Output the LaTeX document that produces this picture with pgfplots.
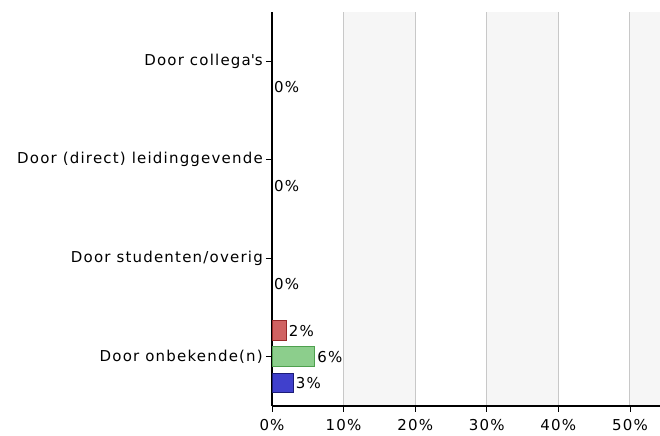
\documentclass[border=0pt]{standalone}
\usepackage{fontspec}
\setmainfont{DejaVu Sans}[LetterSpace=8]
\usepackage{pgfplots}
\pgfplotsset{compat=1.18}
\definecolor{redfill}{RGB}{208,98,98}
\definecolor{redline}{RGB}{150,40,40}
\definecolor{greenfill}{RGB}{140,206,140}
\definecolor{greenline}{RGB}{78,160,78}
\definecolor{bluefill}{RGB}{64,64,204}
\definecolor{blueline}{RGB}{28,28,120}
\definecolor{band}{RGB}{246,246,246}
\definecolor{gridc}{RGB}{200,200,200}
\begin{document}
\fontsize{15bp}{18bp}\selectfont
\begin{tikzpicture}
\begin{axis}[
  name=ax,
  set layers=standard,
  scale only axis,
  width=388bp, height=394bp,
  xmin=0, xmax=54.2,
  ymin=-0.5, ymax=3.5,
  axis lines*=left,
  axis line style={black, line width=1.2bp},
  xtick={0,10,20,30,40,50},
  xticklabel={\pgfmathprintnumber{\tick}\%},
  ytick={0,1,2,3},
  yticklabels={Door onbekende(n), Door studenten/overig, Door (direct) leidinggevende, Door collega\textquotesingle s},
  tick align=outside,
  major tick length=6bp,
  tick style={black, line width=0.8bp},
  xmajorgrids,
  major x grid style={gridc, line width=1bp},
  /pgf/number format/assume math mode=true,
  tick label style={font=\fontsize{15bp}{18bp}\selectfont, black},
  yticklabel style={inner sep=3bp},
  xticklabel style={yshift=-2bp},
  xbar,
  bar width=0.2,
  nodes near coords={\pgfmathprintnumber{\pgfplotspointmeta}\%},
  nodes near coords style={font=\fontsize{15bp}{18bp}\selectfont, black, anchor=west, inner sep=2bp},
  point meta=x,
]
\begin{pgfonlayer}{axis background}
\fill[band] (axis cs:10,-0.5) rectangle (axis cs:20,3.5);
\fill[band] (axis cs:30,-0.5) rectangle (axis cs:40,3.5);
\fill[band] (axis cs:50,-0.5) rectangle (axis cs:54.2,3.5);
\end{pgfonlayer}
\addplot[xbar, bar shift=0.265, fill=redfill, draw=redline, line width=1bp] coordinates {(2,0)};
\addplot[xbar, bar shift=0, fill=greenfill, draw=greenline, line width=1bp] coordinates {(6,0)};
\addplot[xbar, bar shift=-0.265, fill=bluefill, draw=blueline, line width=1bp] coordinates {(3,0)};
\addplot[xbar, bar shift=-0.265, draw=none, fill=none] coordinates {(0,1) (0,2) (0,3)};
\end{axis}
\pgfresetboundingbox
\path (ax.south west) ++(-272bp,-30bp) coordinate (bbsw);
\path (ax.north east) ++(0bp,12bp) coordinate (bbne);
\useasboundingbox (bbsw) rectangle (bbne);
\end{tikzpicture}
\end{document}
